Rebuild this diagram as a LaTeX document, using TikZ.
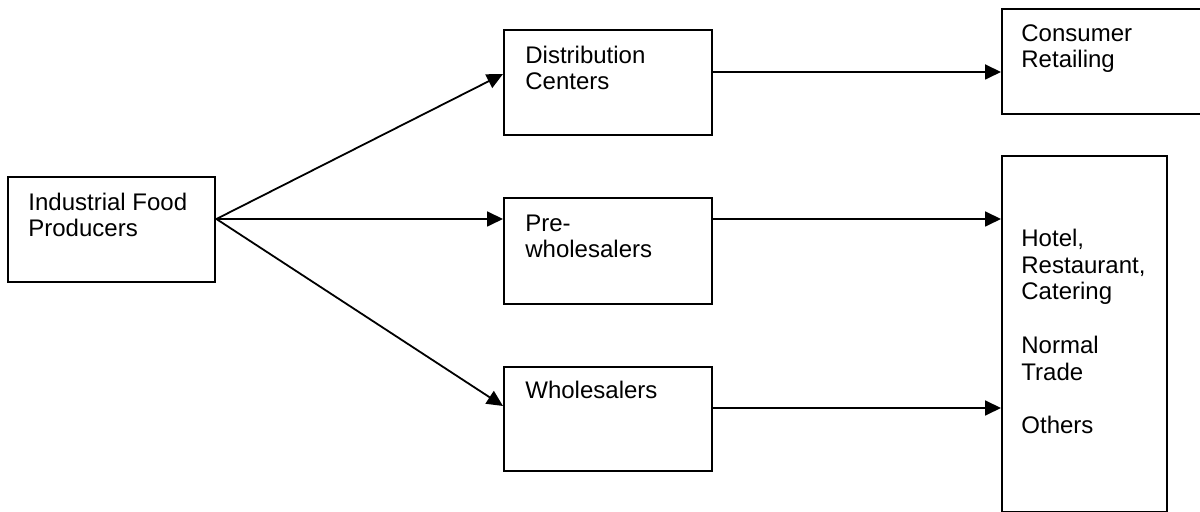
\documentclass[tikz,border=0pt]{standalone}
\usepackage{fontspec}
\setmainfont{Liberation Sans}
\usetikzlibrary{arrows.meta}
\begin{document}
\begin{tikzpicture}[x=0.5pt,y=-0.5pt,
  box/.style={draw=black, line width=1.2pt, fill=none, inner sep=0pt, anchor=north west},
  lbl/.style={inner sep=0pt, anchor=base west, align=left,
    font=\fontsize{12}{13.4}\selectfont},
  arr/.style={line width=0.9pt, -{Triangle[length=8pt,width=7.5pt]}}]
  \useasboundingbox (0,0) rectangle (1200,512);

  % boxes
  \node[box, minimum width=103.5pt, minimum height=52.5pt] (ifp) at (7,176) {};
  \node[box, minimum width=104pt, minimum height=52.5pt] (dc) at (503,29) {};
  \node[box, minimum width=104pt, minimum height=53pt] (pw) at (503,197) {};
  \node[box, minimum width=104pt, minimum height=52pt] (ws) at (503,366) {};
  \node[box, minimum width=110pt, minimum height=52.5pt] (cr) at (1001,8) {};
  \node[box, minimum width=82.5pt, minimum height=178pt] (hrc) at (1001,155) {};

  % labels (anchored at the baseline of their last line)
  \node[lbl] (ifp-t) at (28,237) {Industrial Food\\Producers};
  \node[lbl] (dc-t) at (525,90) {Distribution\\Centers};
  \node[lbl] (pw-t) at (525,258) {Pre-\\wholesalers};
  \node[lbl] (ws-t) at (525,399) {Wholesalers};
  \node[lbl] (cr-t) at (1021,68) {Consumer\\Retailing};
  \node[lbl] (hrc-t) at (1021,434) {Hotel,\\Restaurant,\\Catering\\[13.4pt]Normal\\Trade\\[13.4pt]Others};

  % flows
  \draw[arr] (ifp.east |- 0,219) -- (dc.west |- 0,74);
  \draw[arr] (ifp.east |- 0,219) -- (pw.west |- 0,219);
  \draw[arr] (ifp.east |- 0,219) -- (ws.west |- 0,406);
  \draw[arr] (dc.east |- 0,72) -- (cr.west |- 0,72);
  \draw[arr] (pw.east |- 0,219) -- (hrc.west |- 0,219);
  \draw[arr] (ws.east |- 0,408) -- (hrc.west |- 0,408);
\end{tikzpicture}
\end{document}
